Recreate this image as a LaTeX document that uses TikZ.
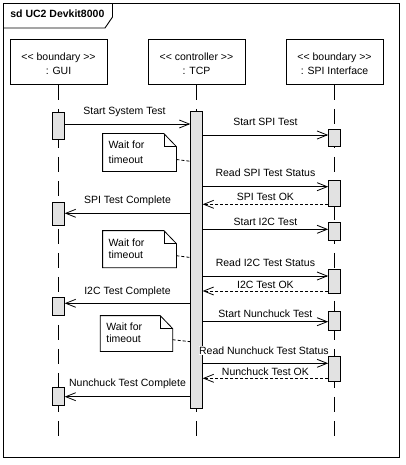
\documentclass[tikz,border=0pt]{standalone}
\usepackage{fontspec}
\setmainfont{Liberation Sans}
\usetikzlibrary{arrows.meta}
\definecolor{barfill}{RGB}{226,226,226}
\begin{document}
\begin{tikzpicture}[x=1pt,y=-1pt,
  font=\fontsize{10.5}{12.6}\selectfont,
  line width=0.8pt,
  objbox/.style={draw, minimum width=97pt, minimum height=45.5pt, inner sep=0},
  objtxt/.style={align=center, inner sep=0, font=\fontsize{10.5}{14.3}\selectfont},
  actbar/.style={draw, fill=barfill, minimum width=11.5pt, inner sep=0},
  lifeline/.style={dash pattern=on 15pt off 9pt},
  msg/.style={-{Straight Barb[length=10pt,width=8pt]}},
  ret/.style={msg, dash pattern=on 3pt off 2pt},
  lbl/.style={anchor=base, inner sep=0.5pt, fill=white},
  notebox/.style={inner sep=0, minimum width=73pt, minimum height=37pt},
  notetxt/.style={align=left, inner sep=0, anchor=west},
  notelink/.style={dash pattern=on 3pt off 2pt}
]
\useasboundingbox (0,0) rectangle (405,465);

% frame
\node[draw, line width=1pt, minimum width=395.5pt, minimum height=453.5pt, inner sep=0] (frame) at (201.25,230.25) {};
\node[anchor=base west, inner sep=0, font=\fontsize{10.5}{12.6}\selectfont\bfseries] (title) at (10,18) {sd UC2 Devkit8000};
\coordinate (t1) at (3.5,28);
\coordinate (t2) at (105,28);
\coordinate (t3) at (112.5,17);
\coordinate (t4) at (112.5,3.5);
\draw[line width=0.9pt] (t1) -- (t2) -- (t3) -- (t4);

% lifeline heads
\node[objbox] (gui) at (58.5,61.75) {};
\node[objbox] (tcp) at (196.5,61.75) {};
\node[objbox] (spi) at (334.5,61.75) {};
\node[objtxt, yshift=-2pt] (guitxt) at (gui.center) {<{}< boundary >{}>\\: GUI};
\node[objtxt, yshift=-2pt] (tcptxt) at (tcp.center) {<{}< controller >{}>\\: TCP};
\node[objtxt, yshift=-2pt] (spitxt) at (spi.center) {<{}< boundary >{}>\\: SPI Interface};

% lifelines
\coordinate (guiend) at (58.5,438.3);
\coordinate (tcpend) at (196.5,438.3);
\coordinate (spiend) at (334.5,438.3);
\draw[lifeline] (gui.south) -- (guiend);
\draw[lifeline] (tcp.south) -- (tcpend);
\draw[lifeline] (spi.south) -- (spiend);

% activation bars
\node[actbar, minimum height=26.3pt] (gui1) at (58.5,125.85) {};
\node[actbar, minimum height=22.3pt] (gui2) at (58.5,213.85) {};
\node[actbar, minimum height=17.7pt] (gui3) at (58.5,306.15) {};
\node[actbar, minimum height=18.4pt] (gui4) at (58.5,396.5) {};
\node[actbar, minimum height=296.3pt] (tcpbar) at (196.5,259.85) {};
\node[actbar, minimum height=17.7pt] (spi1) at (334.3,137.85) {};
\node[actbar, minimum height=25.3pt] (spi2) at (334.3,193.35) {};
\node[actbar, minimum height=17.7pt] (spi3) at (334.3,231.15) {};
\node[actbar, minimum height=24pt] (spi4) at (334.3,281.3) {};
\node[actbar, minimum height=18.3pt] (spi5) at (334.3,320.85) {};
\node[actbar, minimum height=25.7pt] (spi6) at (334.3,368.85) {};

% message levels
\coordinate (m1) at (0,124);
\coordinate (m2) at (0,135);
\coordinate (m3) at (0,186.7);
\coordinate (m4) at (0,204.3);
\coordinate (m5) at (0,213.3);
\coordinate (m6) at (0,229.3);
\coordinate (m7) at (0,276);
\coordinate (m8) at (0,291);
\coordinate (m9) at (0,303.3);
\coordinate (m10) at (0,321.7);
\coordinate (m11) at (0,363.3);
\coordinate (m12) at (0,378.3);
\coordinate (m13) at (0,396.7);

% messages
\draw[msg] (gui1.east |- m1) -- node[lbl, yshift=9.2pt, xshift=-3pt] {Start System Test} (tcpbar.west |- m1);
\draw[msg] (tcpbar.east |- m2) -- node[lbl, yshift=9.2pt] {Start SPI Test} (spi1.west |- m2);
\draw[msg] (tcpbar.east |- m3) -- node[lbl, yshift=10.2pt] {Read SPI Test Status} (spi2.west |- m3);
\draw[ret] (spi2.west |- m4) -- node[lbl, yshift=3.4pt] {SPI Test OK} (tcpbar.east |- m4);
\draw[msg] (tcpbar.west |- m5) -- node[lbl, yshift=10pt] {SPI Test Complete} (gui2.east |- m5);
\draw[msg] (tcpbar.east |- m6) -- node[lbl, yshift=4.3pt] {Start I2C Test} (spi3.west |- m6);
\draw[msg] (tcpbar.east |- m7) -- node[lbl, yshift=9.3pt] {Read I2C Test Status} (spi4.west |- m7);
\draw[ret] (spi4.west |- m8) -- node[lbl, yshift=2.9pt] {I2C Test OK} (tcpbar.east |- m8);
\draw[msg] (tcpbar.west |- m9) -- node[lbl, yshift=9.3pt] {I2C Test Complete} (gui3.east |- m9);
\draw[msg] (tcpbar.east |- m10) -- node[lbl, yshift=4.4pt] {Start Nunchuck Test} (spi5.west |- m10);
\draw[msg] (tcpbar.east |- m11) -- node[lbl, yshift=9pt, xshift=-1.5pt] {Read Nunchuck Test Status} (spi6.west |- m11);
\draw[ret] (spi6.west |- m12) -- node[lbl, yshift=3.3pt] {Nunchuck Test OK} (tcpbar.east |- m12);
\draw[msg] (tcpbar.west |- m13) -- node[lbl, yshift=10pt] {Nunchuck Test Complete} (gui4.east |- m13);

% notes
\node[notebox] (n1) at (139.5,152.5) {};
\node[notebox, minimum height=36.3pt] (n2) at (139.5,249.15) {};
\node[notebox, minimum width=71.6pt, minimum height=35pt] (n3) at (136.5,333.5) {};
\foreach \n in {n1,n2,n3}{
  \draw (\n.north west) -- ([xshift=-12.5pt]\n.north east) -- ([yshift=-13pt]\n.north east)
        -- (\n.south east) -- (\n.south west) -- cycle;
  \draw ([xshift=-12.5pt]\n.north east) |- ([yshift=-13pt]\n.north east);
}
\node[notetxt, font=\fontsize{10.5}{14.7}\selectfont] (n1t) at (108.3,152.3) {Wait for\\timeout};
\node[notetxt, font=\fontsize{10.5}{12.4}\selectfont] (n2t) at (108.3,248.7) {Wait for\\timeout};
\node[notetxt, font=\fontsize{10.5}{12.1}\selectfont] (n3t) at (106,332.3) {Wait for\\timeout};

\coordinate (k1a) at (0,159.5);
\coordinate (k1b) at (0,161.3);
\coordinate (k2a) at (0,255.7);
\coordinate (k2b) at (0,257.5);
\coordinate (k3a) at (0,339.7);
\coordinate (k3b) at (0,341.7);
\draw[notelink] (n1.east |- k1a) -- (tcpbar.west |- k1b);
\draw[notelink] (n2.east |- k2a) -- (tcpbar.west |- k2b);
\draw[notelink] (n3.east |- k3a) -- (tcpbar.west |- k3b);
\end{tikzpicture}
\end{document}
